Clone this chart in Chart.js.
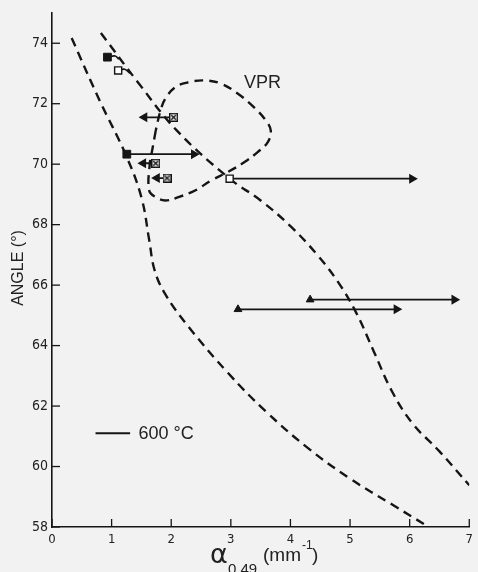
<!DOCTYPE html>
<html>
<head>
<meta charset="utf-8">
<script src="https://cdn.jsdelivr.net/npm/chart.js@4/dist/chart.umd.min.js"></script>
<style>
  body { margin: 0; background: #f2f2f2; }
  canvas { display: block; }
</style>
</head>
<body>
<canvas id="chart" width="478" height="572"></canvas>
<script>
// tick values
const xTicks = [0, 1, 2, 3, 4, 5, 6, 7];
const yTicks = [58, 60, 62, 64, 66, 68, 70, 72, 74];

// dashed boundaries, [alpha, angle]
const leftBoundary = [[0.33, 74.17], [0.8, 72.1], [1.24, 70.3], [1.5, 68.9], [1.63, 67.5], [1.72, 66.5],
  [1.9, 65.7], [2.3, 64.6], [2.95, 63.1], [3.6, 61.8], [4.3, 60.6], [5.0, 59.6], [5.7, 58.75], [6.27, 58.06]];
const rightBoundary = [[0.82, 74.34], [1.46, 72.66], [2.1, 71.1], [2.98, 69.52], [3.5, 68.8], [4.0, 67.95],
  [4.45, 67.0], [4.8, 66.1], [5.1, 65.1], [5.4, 63.8], [5.7, 62.5], [6.05, 61.42], [6.5, 60.5], [7.0, 59.38]];
const vprLoop = [[1.74, 71.11], [1.68, 70.45], [1.64, 70.01], [1.63, 69.13], [1.74, 68.91], [1.9, 68.8],
  [2.12, 68.91], [2.4, 69.13], [2.67, 69.46], [2.95, 69.74], [3.23, 70.07], [3.45, 70.4], [3.62, 70.73],
  [3.67, 71.11], [3.59, 71.44], [3.39, 71.88], [3.12, 72.33], [2.84, 72.66], [2.57, 72.77], [2.29, 72.71],
  [2.07, 72.55], [1.9, 72.16], [1.82, 71.77], [1.74, 71.11]];

// measured points
const filledSquares = [[0.93, 73.54], [1.255, 70.33]];
const openSquares = [[1.11, 73.1], [2.98, 69.52]];
const crossedSquares = [[2.04, 71.55], [1.74, 70.03], [1.93, 69.54]];
const triangles = [[4.33, 65.52], [3.12, 65.2]];

// arrows: [from alpha, to alpha, angle]
const arrows = [[1.255, 2.44, 70.33], [2.04, 1.49, 71.55], [1.74, 1.47, 70.03], [1.93, 1.7, 69.54],
  [2.98, 6.1, 69.52], [4.33, 6.81, 65.52], [3.12, 5.84, 65.2]];
const hooks = [
  [[0.93, 73.54], [1.06, 73.58], [1.12, 73.47]],
  [[1.11, 73.1], [1.22, 73.14], [1.31, 73.0]]
];
const legendLine = [[0.73, 61.1], [1.31, 61.1]];

const ink = '#151515';
const pts = arr => arr.map(p => ({ x: p[0], y: p[1] }));

function crossedBox() {
  const c = document.createElement('canvas');
  c.width = c.height = 9;
  const g = c.getContext('2d');
  g.fillStyle = '#fff';
  g.fillRect(0, 0, 9, 9);
  g.strokeStyle = ink;
  g.lineWidth = 1.4;
  g.strokeRect(0.7, 0.7, 7.6, 7.6);
  g.beginPath();
  g.moveTo(2.2, 2.2); g.lineTo(6.8, 6.8);
  g.moveTo(6.8, 2.2); g.lineTo(2.2, 6.8);
  g.stroke();
  return c;
}

const datasets = [
  { data: pts(filledSquares), pointStyle: 'rect', pointRadius: 5.5, backgroundColor: ink, borderColor: ink },
  { data: pts(openSquares), pointStyle: 'rect', pointRadius: 5, borderWidth: 1.4, backgroundColor: '#fff', borderColor: ink },
  { data: pts(crossedSquares), pointStyle: crossedBox(), pointRadius: 5 },
  { data: pts(triangles), pointStyle: 'triangle', pointRadius: 4.5, backgroundColor: ink, borderColor: ink }
];

arrows.forEach(a => {
  const dir = a[1] > a[0] ? 1 : -1;
  datasets.push({
    data: [{ x: a[0], y: a[2] }, { x: a[1] - dir * 0.06, y: a[2] }],
    showLine: true, borderColor: ink, borderWidth: 1.8,
    pointStyle: 'triangle', pointRadius: [0, 4], pointRotation: [0, dir * 90],
    backgroundColor: ink
  });
});

hooks.forEach(h => {
  datasets.push({ data: pts(h), showLine: true, tension: 0.4, borderColor: ink, borderWidth: 1.6, pointRadius: 0 });
});

datasets.push({ data: pts(legendLine), showLine: true, borderColor: ink, borderWidth: 2, pointRadius: 0 });

[leftBoundary, rightBoundary, vprLoop].forEach(c => {
  datasets.push({
    data: pts(c), showLine: true, tension: 0.4, borderColor: ink, borderWidth: 2.4,
    borderDash: [9, 6], pointRadius: 0
  });
});

const overlay = {
  id: 'overlay',
  afterDraw(chart) {
    const { ctx, scales: { x, y } } = chart;
    ctx.save();
    ctx.strokeStyle = ink;
    ctx.lineWidth = 1.3;
    xTicks.forEach(v => {
      const px = x.getPixelForValue(v);
      ctx.beginPath(); ctx.moveTo(px, y.bottom); ctx.lineTo(px, y.bottom - 8); ctx.stroke();
    });
    yTicks.forEach(v => {
      const py = y.getPixelForValue(v);
      ctx.beginPath(); ctx.moveTo(x.left, py); ctx.lineTo(x.left + 8, py); ctx.stroke();
    });

    ctx.fillStyle = '#222';
    ctx.textBaseline = 'middle';
    ctx.font = '18px "Liberation Sans", Arial, sans-serif';
    ctx.textAlign = 'center';
    ctx.fillText('VPR', x.getPixelForValue(3.53), y.getPixelForValue(72.67));
    ctx.textAlign = 'left';
    ctx.fillText('600 °C', x.getPixelForValue(1.45), y.getPixelForValue(61.1) + 1);

    // y title
    ctx.save();
    ctx.translate(19, 268);
    ctx.rotate(-Math.PI / 2);
    ctx.textAlign = 'center';
    ctx.font = '16px "Liberation Sans", Arial, sans-serif';
    ctx.fillText('ANGLE (°)', 0, 0);
    ctx.restore();

    // x title
    ctx.textBaseline = 'alphabetic';
    ctx.font = '27px "DejaVu Sans", sans-serif';
    ctx.fillText('α', 210, 563);
    ctx.font = '15px "Liberation Sans", Arial, sans-serif';
    ctx.fillText('0.49', 228, 574);
    ctx.font = '19px "Liberation Sans", Arial, sans-serif';
    ctx.fillText('(mm', 263, 561);
    ctx.font = '12px "Liberation Sans", Arial, sans-serif';
    ctx.fillText('-1', 302, 549);
    ctx.font = '19px "Liberation Sans", Arial, sans-serif';
    ctx.fillText(')', 312, 561);
    ctx.restore();
  }
};

const tickFont = { family: '"Liberation Sans Narrow", "DejaVu Sans Condensed", sans-serif', size: 14 };

new Chart(document.getElementById('chart'), {
  type: 'scatter',
  data: { datasets: datasets },
  plugins: [overlay],
  options: {
    responsive: false,
    animation: false,
    devicePixelRatio: 1,
    layout: { padding: { top: 13, right: 4, left: 0, bottom: 0 } },
    plugins: { legend: { display: false }, tooltip: { enabled: false } },
    scales: {
      x: {
        type: 'linear', min: 0, max: 7,
        afterBuildTicks: s => { s.ticks = xTicks.map(v => ({ value: v })); },
        afterFit: s => { s.height = 45; },
        grid: { display: false, drawTicks: false },
        border: { display: true, color: ink, width: 1.6 },
        ticks: { color: '#222', font: { family: tickFont.family, size: 13 }, padding: 5, maxRotation: 0 }
      },
      y: {
        type: 'linear', min: 58, max: 75,
        afterBuildTicks: s => { s.ticks = yTicks.map(v => ({ value: v })); },
        afterFit: s => { s.width = 52; },
        grid: { display: false, drawTicks: false },
        border: { display: true, color: ink, width: 1.6 },
        ticks: { color: '#222', font: tickFont, padding: 4 }
      }
    }
  }
});
</script>
</body>
</html>
